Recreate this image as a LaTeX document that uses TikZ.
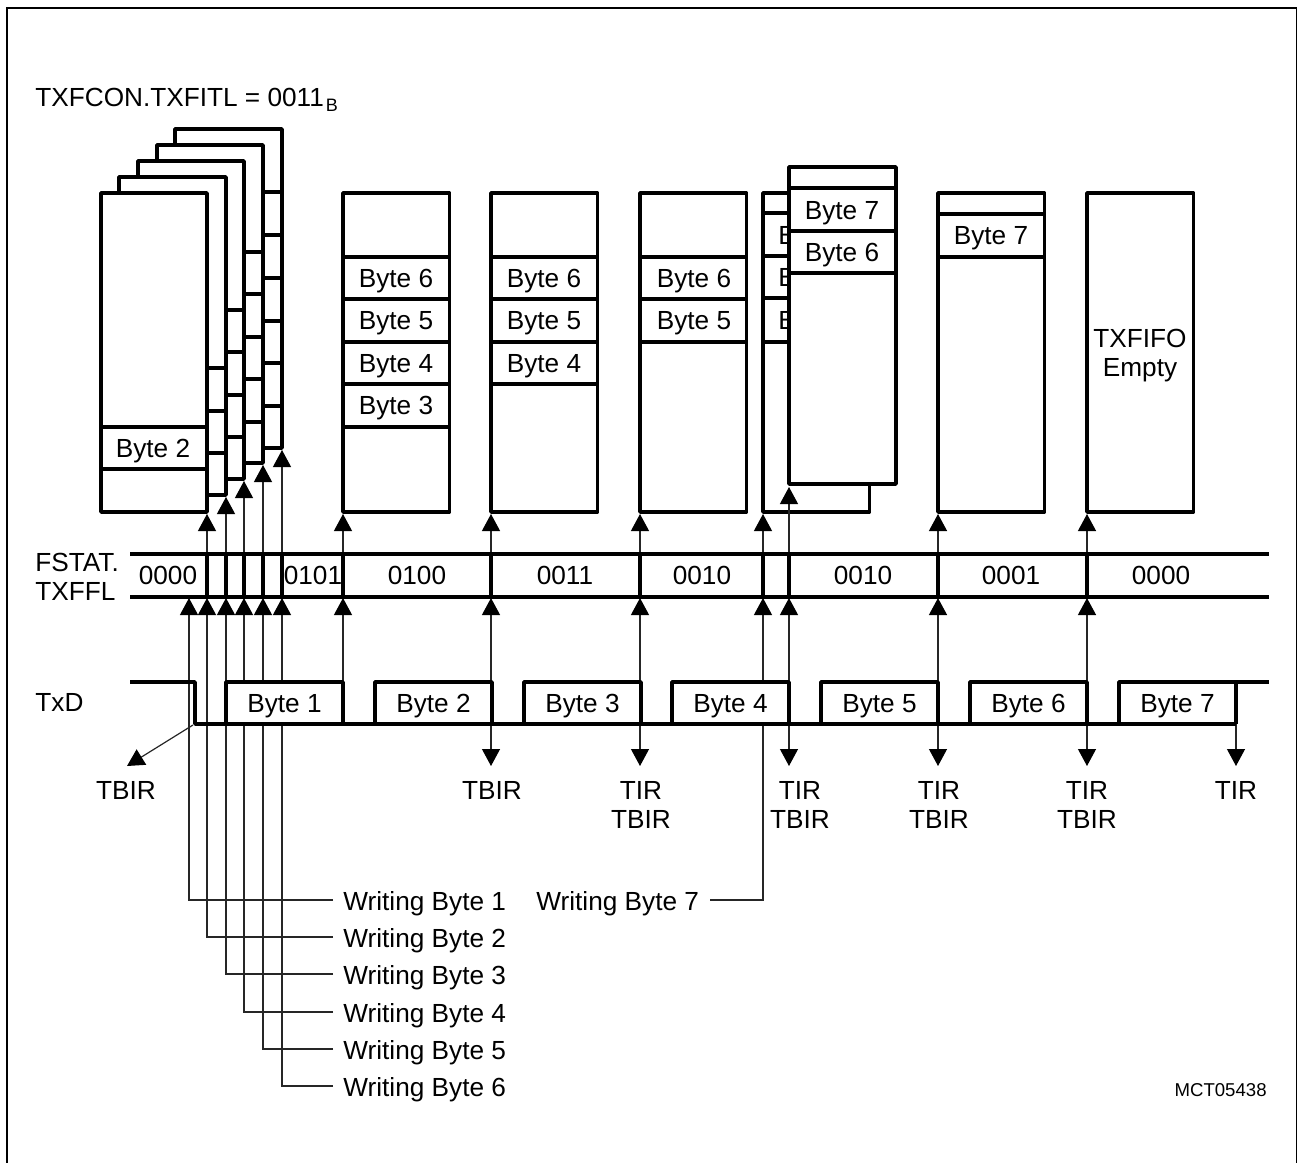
\documentclass[tikz,border=0pt]{standalone}
\usepackage{fontspec}
\setmainfont{Liberation Sans}
\usetikzlibrary{arrows.meta}
\tikzset{
    sigline/.style={line width=1.75pt, line join=round},
    thinline/.style={line width=0.6pt, black!85},
    tipline/.style={thinline, -{Triangle[width=9pt,length=8.5pt,black]}},
    lbl/.style={anchor=base, inner sep=0pt, font=\fontsize{13.1}{15}\selectfont},
}
\begin{document}
\begin{tikzpicture}[x=0.5pt, y=-0.5pt]
    \useasboundingbox (0,0) rectangle (1297,1163);
    \draw[line width=1pt] (7,1163) -- (7,8) -- (1296.5,8) -- (1296.5,1163);
    \node[lbl, anchor=base west] (title) at (35,106) {TXFCON.TXFITL = 0011\kern1pt\raisebox{-2.5pt}{\fontsize{9}{9}\selectfont B}};

    % stacked FIFO, back to front
    \foreach \l/\t/\r/\b/\rows in {175/129/282/448/{192,235,278,321,363,406},
                                   157/145/263/463/{252,294,337,379,422},
                                   138/161/244/479/{310,352,395,437},
                                   119/177/226/495/{368,411,453}} {
        \filldraw[sigline, fill=white] (\l,\t) rectangle (\r,\b);
        \foreach \y in \rows
            \draw[sigline] ({\r-19},\y) -- (\r,\y);
    }
    \filldraw[sigline, fill=white] (101,193) rectangle (207,512);
    \draw[sigline] (101,427) -- (207,427);
    \draw[sigline] (101,469) -- (207,469);
    \node[lbl] (fifoAb) at (153,457) {Byte 2};

    % the other FIFO states
    \foreach \x/\rows in {343/{257,299,342,384,427}, 491/{257,299,342,384}, 640/{257,299,342},
                          763/{213,256,298,342}, 938/{214,257}, 1087/{}} {
        \draw[sigline] (\x,193) rectangle ++(106.5,319);
        \foreach \y in \rows
            \draw[sigline] (\x,\y) -- ++(106.5,0);
    }
    \foreach \n/\x/\y/\t in {b6/396/287/Byte 6, b5/396/329/Byte 5, b4/396/372/Byte 4, b3/396/414/Byte 3,
                             c6/544/287/Byte 6, c5/544/329/Byte 5, c4/544/372/Byte 4,
                             d6/694/287/Byte 6, d5/694/329/Byte 5,
                             f7/991/244/Byte 7}
        \node[lbl] (fifo\n) at (\x,\y) {\t};
    \node[lbl] (fifoE1) at (1140,347) {TXFIFO};
    \node[lbl] (fifoE2) at (1140,376) {Empty};
    \foreach \n/\y in {1/244, 2/286, 3/329}
        \node[lbl, anchor=base west] (stub\n) at (778,\y) {B};
    \filldraw[sigline, fill=white] (789,167) rectangle (896,484);
    \foreach \y in {188,231,273}
        \draw[sigline] (789,\y) -- (896,\y);
    \node[lbl] (fifoF7) at (842,219) {Byte 7};
    \node[lbl] (fifoF6) at (842,261) {Byte 6};

    % arrows from the level bus to the FIFO
    \foreach \x/\t in {207/514, 226/497, 244/481, 263/465, 282/450, 343/514, 491/514,
                       640/514, 763/514, 789/487, 938/514, 1087/514} {
        \coordinate (bus\x) at (\x,554);
        \coordinate (tip\x) at (\x,\t);
        \draw[tipline] (bus\x) -- (tip\x);
    }

    % writes into the FIFO
    \foreach \n/\x/\y in {1/189/900, 2/207/937, 3/226/974, 4/244/1012, 5/263/1049, 6/282/1086} {
        \node[lbl, anchor=base west] (write\n) at (343,{\y+10}) {Writing Byte \n};
        \coordinate (wend\n) at (333,\y);
        \coordinate (wtip\n) at (\x,598);
        \draw[tipline] (wend\n) -| (wtip\n);
    }
    \node[lbl, anchor=base west] (write7) at (536,910) {Writing Byte 7};
    \coordinate (wend7) at (710,900);
    \coordinate (wtip7) at (763,598);
    \draw[tipline] (wend7) -| (wtip7);

    % arrows from TxD edges
    \foreach \x in {343,491,640,789,938,1087} {
        \coordinate (up\x) at (\x,682);
        \coordinate (lev\x) at (\x,598);
        \draw[tipline] (up\x) -- (lev\x);
    }
    \foreach \x in {491,640,789,938,1087,1236} {
        \coordinate (low\x) at (\x,724);
        \coordinate (irq\x) at (\x,766);
        \draw[tipline] (low\x) -- (irq\x);
    }
    \coordinate (low193) at (193,725);
    \coordinate (irq127) at (127,766);
    \draw[tipline] (low193) -- (irq127);

    % TxD
    \foreach \x/\n in {226/1, 375/2, 524/3, 672/4, 821/5, 970/6, 1119/7} {
        \filldraw[sigline, fill=white] (\x,724) |- ({\x+117},682) -- ({\x+117},724);
        \node[lbl] (byte\n) at ({\x+58.5},712) {Byte \n};
    }
    \draw[sigline] (130,682) -- (195,682) -- (195,724) -- (1236,724);
    \draw[sigline] (1236,682) -- (1269,682);
    \node[lbl, anchor=base west] (txd) at (35,711) {TxD};

    % FSTAT.TXFFL bus
    \draw[sigline] (130,554) -- (1269,554);
    \draw[sigline] (130,597) -- (1269,597);
    \foreach \x in {207,226,244,263,282,343,491,640,763,789,938,1087}
        \draw[sigline] (\x,554) -- (\x,597);
    \node[lbl, anchor=base west] (fstat) at (35,571) {FSTAT.};
    \node[lbl, anchor=base west] (txffl) at (35,600) {TXFFL};
    \foreach \n/\x/\t in {a/168/0000, b/313/0101, c/417/0100, d/565/0011,
                          e/702/0010, f/863/0010, g/1011/0001, h/1161/0000}
        \node[lbl] (lev\n) at (\x,584) {\t};

    % interrupt labels
    \node[lbl] (irqA) at (126,799) {TBIR};
    \node[lbl] (irqB) at (492,799) {TBIR};
    \foreach \x/\c in {641/640, 800/789, 939/938, 1087/1087} {
        \node[lbl] (tir\c) at (\x,799) {TIR};
        \node[lbl] (tbir\c) at (\x,828) {TBIR};
    }
    \node[lbl] (tirEnd) at (1236,799) {TIR};

    \node[lbl, anchor=base east, font=\fontsize{9.3}{11}\selectfont] (code) at (1267,1096) {MCT05438};
\end{tikzpicture}
\end{document}
